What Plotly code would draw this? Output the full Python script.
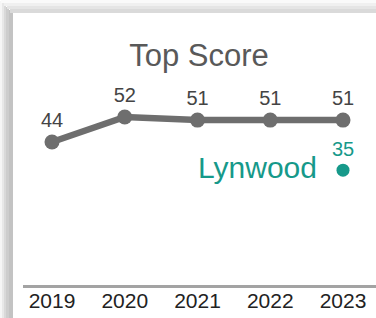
import plotly.graph_objects as go

# ---- data ----
years = [2019, 2020, 2021, 2022, 2023]
year_labels = ["2019", "2020", "2021", "2022", "2023"]
top_score = [44, 52, 51, 51, 51]
lynwood_years = [2023]
lynwood_score = [35]
lynwood_name = "Lynwood"
chart_title = "Top Score"

W, H = 376, 318
ML, MR, MT, MB = 23, 0, 70, 33
PW, PH = W - ML - MR, H - MT - MB

GRAY = "#6e6e6e"
TEAL = "#16998a"
FONT = "Liberation Sans, Arial, sans-serif"


def px(p):
    return (p - ML) / PW


def py(q):
    return (H - MB - q) / PH


fig = go.Figure()

fig.add_trace(go.Scatter(
    x=years, y=top_score, mode="lines+markers+text",
    line=dict(color=GRAY, width=6.5),
    marker=dict(color=GRAY, size=15),
    text=[str(v) for v in top_score], textposition="top center",
    textfont=dict(size=20, color="#444444", family=FONT),
    cliponaxis=False, hoverinfo="skip", showlegend=False,
))

fig.add_trace(go.Scatter(
    x=lynwood_years, y=lynwood_score, mode="markers+text",
    marker=dict(color=TEAL, size=13),
    text=[str(v) for v in lynwood_score], textposition="top center",
    textfont=dict(size=20, color=TEAL, family=FONT),
    cliponaxis=False, hoverinfo="skip", showlegend=False,
))

fig.add_annotation(
    x=lynwood_years[0], y=lynwood_score[0], text=lynwood_name,
    xanchor="right", yanchor="middle", xshift=-24, yshift=3,
    showarrow=False, font=dict(size=30, color=TEAL, family=FONT),
)

# card shadow (decoration)
shapes = []
left_cols = [(0, 2, "#f6f6f6"), (2, 4, "#e8e8e8"), (4, 6, "#d9d9d9"),
             (6, 9, "#cdcdcd"), (9, 13, "#c3c3c3")]
for a, b, c in left_cols:
    shapes.append(dict(type="rect", xref="paper", yref="paper",
                       x0=px(a), x1=px(b), y0=py(H), y1=py(a + 1),
                       fillcolor=c, line=dict(width=0), layer="below"))
top_rows = [(0, 3, "#fafafa"), (3, 6, "#f0f0f0"), (6, 9, "#e5e5e5"),
            (9, 13, "#dadada")]
for a, b, c in top_rows:
    shapes.append(dict(type="rect", xref="paper", yref="paper",
                       x0=px(a + 1), x1=px(W), y0=py(b), y1=py(a),
                       fillcolor=c, line=dict(width=0), layer="below"))
shapes.append(dict(type="rect", xref="paper", yref="paper",
                   x0=px(13), x1=px(W), y0=py(H), y1=py(13),
                   fillcolor="white", line=dict(width=0), layer="below"))

y0v = 52 - (H - MB - 117) / 3.125
y1v = y0v + PH / 3.125
x0v = 2019 - (52 - ML) / 72.75
x1v = x0v + PW / 72.75

fig.update_layout(
    width=W, height=H,
    margin=dict(l=ML, r=MR, t=MT, b=MB, pad=0),
    paper_bgcolor="white", plot_bgcolor="rgba(0,0,0,0)",
    shapes=shapes,
    title=dict(text=chart_title, x=(199 / W), xanchor="center",
               y=1 - 55 / H, yanchor="middle", xref="container", yref="container",
               font=dict(size=31, color="#595959", family=FONT)),
    xaxis=dict(range=[x0v, x1v], tickvals=years, ticktext=year_labels,
               showgrid=False, zeroline=False, showline=True,
               linecolor="#a3a3a3", linewidth=3, ticks="",
               ticklabelstandoff=-5,
               tickfont=dict(size=21, color="#222222", family=FONT),
               fixedrange=True, automargin=False),
    yaxis=dict(range=[y0v, y1v], visible=False, showgrid=False,
               zeroline=False, fixedrange=True),
    showlegend=False,
)

fig.write_html("out.html", config={"displayModeBar": False},
               post_script="document.body.style.margin='0';document.body.style.overflow='hidden';")
